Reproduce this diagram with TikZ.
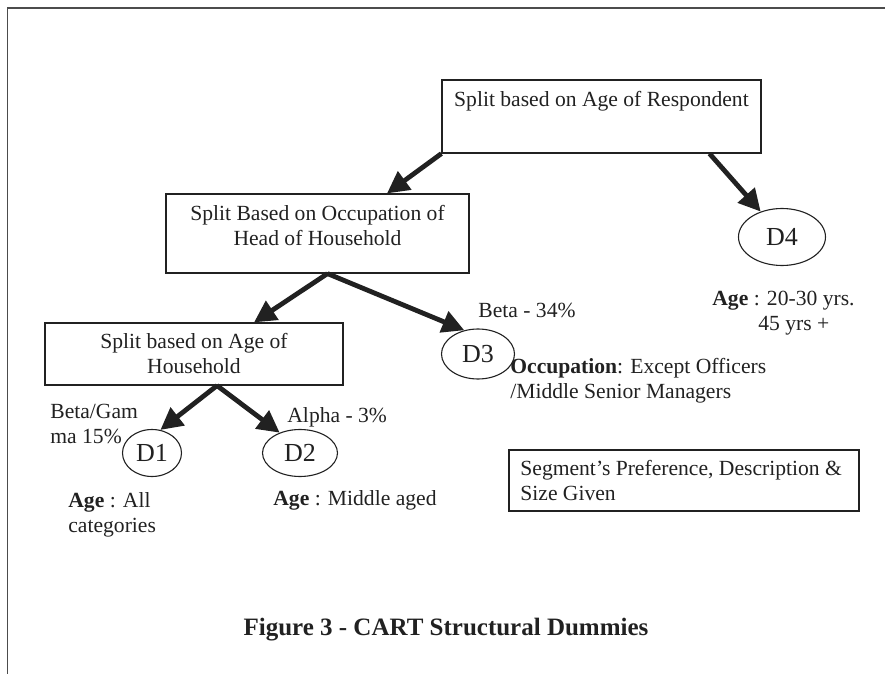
\documentclass[tikz,border=0pt]{standalone}
\usepackage{fontspec}
\setmainfont{Liberation Serif}
\usepackage{tikz}
\usetikzlibrary{positioning}
\usetikzlibrary{shapes.geometric}
\usetikzlibrary{arrows.meta}
\usepackage{xcolor}

\definecolor{inkgray}{gray}{0.13}

\begin{document}
\begin{tikzpicture}[x=0.5pt, y=-0.5pt,
    splitbox/.style={rectangle, draw=inkgray, line width=0.6pt, inner sep=0pt},
    dummy/.style={ellipse, draw=inkgray, line width=0.55pt, inner sep=0pt, minimum height=23.5pt, text=inkgray, font=\fontsize{13}{15}\selectfont},
    txt/.style={inner sep=0pt, text=inkgray, font=\fontsize{10.8}{12.5}\selectfont},
    branch/.style={line width=2.4pt, inkgray, -{Triangle[length=11pt,width=11pt]}}]

    \useasboundingbox (0,0) rectangle (885,674);

    % Frame
    \draw[black!70, line width=0.8pt] (885,8) -- (7.5,8) -- (7.5,674);

    % Root split
    \node[splitbox, minimum width=159.5pt, minimum height=36.5pt] (resp) at (601.5,116.5) {};
    \node[txt] (resptxt) at (601.5,101) {Split based on Age of Respondent};

    % Level 1
    \node[splitbox, minimum width=151.5pt, minimum height=39.5pt] (occ) at (317.5,233.5) {};
    \node[txt, align=center] (occtxt) at (317.5,225.5) {Split Based on Occupation of\\Head of Household};
    \node[dummy, minimum width=43.5pt, minimum height=28.5pt] (d4) at (782,237) {D4};

    % Level 2
    \node[splitbox, minimum width=149pt, minimum height=31pt] (hh) at (194,354) {};
    \node[txt, align=center] (hhtxt) at (194,354) {Split based on Age of\\Household};
    \node[dummy, minimum width=36.5pt, minimum height=25pt] (d3) at (478,354) {D3};

    % Level 3
    \node[dummy, minimum width=29.5pt] (d1) at (152,453) {D1};
    \node[dummy, minimum width=37.5pt] (d2) at (300,453) {D2};

    % Edges
    \draw[branch] (resp.south west) -- ([xshift=34.75pt]occ.north);
    \draw[branch] ([xshift=54pt]resp.south) -- (d4.130);
    \draw[branch] ([xshift=5pt]occ.south) -- ([xshift=30pt]hh.north);
    \draw[branch] ([xshift=5pt]occ.south) -- (d3.120);
    \draw[branch] ([xshift=11.5pt]hh.south) -- (d1.70);
    \draw[branch] ([xshift=11.5pt]hh.south) -- (d2.135);

    % Segment sizes and descriptions
    \node[txt, anchor=west] (d3size) at (478,310) {Beta - 34\%};
    \node[txt, align=left, anchor=west] (d3desc) at (510,380.5) {\textbf{Occupation}: Except Officers\\/Middle Senior Managers};
    \node[txt, align=left, anchor=west] (d4desc) at (712,313.5) {\textbf{Age} : 20-30 yrs.\\\hspace*{23pt}45 yrs +};
    \node[txt, align=left, anchor=west] (d1size) at (50,423.5) {Beta/Gam\\ma 15\%};
    \node[txt, anchor=west] (d2size) at (287,417) {Alpha - 3\%};
    \node[txt, align=left, anchor=west] (d1desc) at (68,515) {\textbf{Age} : All\\categories};
    \node[txt, anchor=west] (d2desc) at (273,500) {\textbf{Age} : Middle aged};

    % Legend box
    \node[splitbox, minimum width=175pt, minimum height=30.5pt] (pref) at (684,480.5) {};
    \node[txt, align=left, anchor=west] (preftxt) at (520,480) {Segment's Preference, Description \&\\Size Given};

    \node[font=\bfseries\fontsize{12.5}{15}\selectfont, text=inkgray, inner sep=0pt] (caption) at (446,630) {Figure 3 - CART Structural Dummies};
\end{tikzpicture}
\end{document}
